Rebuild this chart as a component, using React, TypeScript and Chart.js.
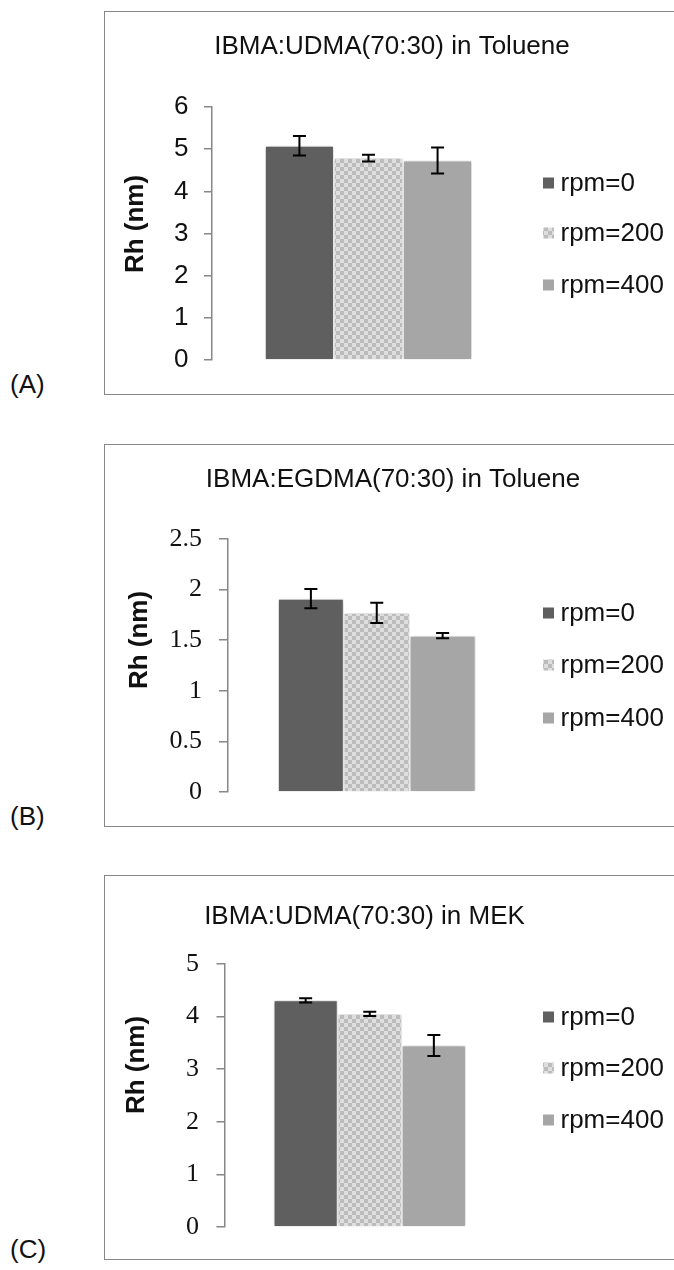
import React, { useEffect, useRef } from 'react';
import { Chart, registerables } from 'chart.js';

Chart.register(...registerables);

// ---------- data ----------
const SERIES_LABELS = ['rpm=0', 'rpm=200', 'rpm=400'];
const PANEL_TAGS = ['(A)', '(B)', '(C)'];
const PANEL_TITLES = [
  'IBMA:UDMA(70:30) in Toluene',
  'IBMA:EGDMA(70:30) in Toluene',
  'IBMA:UDMA(70:30) in MEK',
];
const Y_AXIS_TITLE = 'Rh (nm)';

const A_MEANS = [5.08, 4.79, 4.73];
const A_ERRORS = [0.23, 0.08, 0.31];
const B_MEANS = [1.91, 1.77, 1.545];
const B_ERRORS = [0.095, 0.1, 0.025];
const C_MEANS = [4.31, 4.05, 3.45];
const C_ERRORS = [0.04, 0.04, 0.2];

const A_TICKS = ['0', '1', '2', '3', '4', '5', '6'];
const B_TICKS = ['0', '0.5', '1', '1.5', '2', '2.5'];
const C_TICKS = ['0', '1', '2', '3', '4', '5'];

const PANEL_MEANS = [A_MEANS, B_MEANS, C_MEANS];
const PANEL_ERRORS = [A_ERRORS, B_ERRORS, C_ERRORS];
const PANEL_TICKS = [A_TICKS, B_TICKS, C_TICKS];
const Y_MAX = [6, 2.5, 5];
const Y_STEP = [1, 0.5, 1];

// ---------- styles ----------
const SANS = '"Liberation Sans", Arial, Helvetica, sans-serif';
const SERIF = '"Liberation Serif", "Times New Roman", serif';
const AXIS_GREY = '#878787';
const TEXT = '#111111';
const DARK = '#5f5f5f';
const LIGHT = '#a6a6a6';

const CANVAS_W = 570;
const BOX_LEFT = 104;

const LAYOUTS = [
  {
    top: 11, height: 384,
    area: { left: 108, right: 421, top: 96, bottom: 349 },
    tickLen: 8, tickPad: 15.5, tickFont: SANS,
    title: { x: 288, y: 36 },
    legendY: [172, 222, 274],
    yTitle: { x: 32, y: 213 },
  },
  {
    top: 444, height: 383,
    area: { left: 123.5, right: 422, top: 95, bottom: 348 },
    tickLen: 8.5, tickPad: 17, tickFont: SERIF,
    title: { x: 289, y: 36 },
    legendY: [169, 221, 274],
    yTitle: { x: 36, y: 196 },
  },
  {
    top: 875, height: 385,
    area: { left: 120.5, right: 411, top: 89, bottom: 352.5 },
    tickLen: 8, tickPad: 17.5, tickFont: SERIF,
    title: { x: 260.5, y: 42 },
    legendY: [142, 193, 245],
    yTitle: { x: 33, y: 190 },
  },
];

function makeChecker(): CanvasPattern | string {
  const c = document.createElement('canvas');
  c.width = 8;
  c.height = 8;
  const g = c.getContext('2d');
  if (!g) return '#cccccc';
  g.fillStyle = '#dedede';
  g.fillRect(0, 0, 8, 8);
  g.fillStyle = '#bcbcbc';
  g.fillRect(0, 0, 4, 4);
  g.fillRect(4, 4, 4, 4);
  const p = g.createPattern(c, 'repeat');
  return p || '#cccccc';
}

const decorPlugin = {
  id: 'decor',
  beforeDatasetsDraw(chart: any) {
    const ctx = chart.ctx;
    ctx.save();
    ctx.shadowColor = 'rgba(0,0,0,0.28)';
    ctx.shadowBlur = 4;
  },
  afterDatasetsDraw(chart: any) {
    const ctx = chart.ctx;
    ctx.restore();
    const yScale = chart.scales.y;
    ctx.save();
    ctx.strokeStyle = '#000000';
    ctx.lineWidth = 2;
    const cap = 6.5;
    chart.data.datasets.forEach((ds: any, i: number) => {
      const meta = chart.getDatasetMeta(i);
      meta.data.forEach((bar: any, j: number) => {
        const v = ds.data[j];
        const e = ds.errors[j];
        const x = bar.x;
        const y1 = yScale.getPixelForValue(v + e);
        const y2 = yScale.getPixelForValue(v - e);
        ctx.beginPath();
        ctx.moveTo(x, y1);
        ctx.lineTo(x, y2);
        ctx.moveTo(x - cap, y1);
        ctx.lineTo(x + cap, y1);
        ctx.moveTo(x - cap, y2);
        ctx.lineTo(x + cap, y2);
        ctx.stroke();
      });
    });
    ctx.restore();
  },
  afterDraw(chart: any, _args: any, opts: any) {
    const ctx = chart.ctx;
    ctx.save();
    // title
    ctx.fillStyle = TEXT;
    ctx.font = `26px ${SANS}`;
    ctx.textAlign = 'center';
    ctx.textBaseline = 'middle';
    ctx.fillText(opts.title, opts.titlePos.x, opts.titlePos.y);
    // legend
    ctx.textAlign = 'left';
    chart.data.datasets.forEach((ds: any, i: number) => {
      const y = opts.legendY[i];
      ctx.fillStyle = ds.backgroundColor;
      ctx.fillRect(439, y - 5.5, 11, 11);
      ctx.fillStyle = TEXT;
      ctx.fillText(ds.label, 456.5, y + 1);
    });
    // y axis title
    ctx.translate(opts.yTitlePos.x, opts.yTitlePos.y);
    ctx.rotate(-Math.PI / 2);
    ctx.font = `bold 26px ${SANS}`;
    ctx.textAlign = 'center';
    ctx.textBaseline = 'middle';
    ctx.fillStyle = TEXT;
    ctx.fillText(opts.yTitle, 0, 0);
    ctx.restore();
  },
};

function Panel({ index }: { index: number }) {
  const ref = useRef<HTMLCanvasElement | null>(null);
  const L = LAYOUTS[index];

  useEffect(() => {
    if (!ref.current) return;
    const checker = makeChecker();
    const colors = [DARK, checker, LIGHT];
    const means = PANEL_MEANS[index];
    const errors = PANEL_ERRORS[index];
    const tickLabels = PANEL_TICKS[index];
    const step = Y_STEP[index];
    const chart = new Chart(ref.current, {
      type: 'bar',
      data: {
        labels: [''],
        datasets: SERIES_LABELS.map((label, i) => ({
          label,
          data: [means[i]],
          errors: [errors[i]],
          backgroundColor: colors[i],
          borderColor: '#ffffff',
          borderWidth: 1,
          categoryPercentage: 0.662,
          barPercentage: 1,
        })) as any,
      },
      options: {
        responsive: false,
        animation: false,
        devicePixelRatio: 1,
        layout: {
          padding: {
            left: 0,
            top: L.area.top,
            bottom: L.height - L.area.bottom,
            right: CANVAS_W - L.area.right,
          },
        },
        plugins: {
          legend: { display: false },
          title: { display: false },
          tooltip: { enabled: false },
          decor: {
            title: PANEL_TITLES[index],
            titlePos: L.title,
            legendY: L.legendY,
            yTitle: Y_AXIS_TITLE,
            yTitlePos: L.yTitle,
          },
        } as any,
        scales: {
          x: { display: false },
          y: {
            min: 0,
            max: Y_MAX[index],
            ticks: {
              stepSize: step,
              color: TEXT,
              padding: L.tickPad,
              font: { family: L.tickFont, size: 26 },
              callback: (value: any) => {
                const k = Math.round(Number(value) / step);
                return tickLabels[k] ?? String(value);
              },
            },
            grid: {
              drawOnChartArea: false,
              drawTicks: true,
              tickLength: L.tickLen,
              color: AXIS_GREY,
              lineWidth: 1.5,
            },
            border: { display: true, color: AXIS_GREY, width: 1.5 },
            afterFit: (scale: any) => {
              scale.width = L.area.left;
            },
          },
        },
      },
      plugins: [decorPlugin],
    });
    return () => chart.destroy();
  }, [index]);

  return (
    <>
      <div
        style={{
          position: 'absolute',
          left: BOX_LEFT,
          top: L.top,
          width: 600,
          height: L.height,
          border: `1.5px solid ${AXIS_GREY}`,
          boxSizing: 'border-box',
        }}
      />
      <canvas
        ref={ref}
        width={CANVAS_W}
        height={L.height}
        style={{ position: 'absolute', left: BOX_LEFT, top: L.top }}
      />
      <div
        style={{
          position: 'absolute',
          left: 10,
          top: L.top + L.height - 11 - 15,
          height: 30,
          lineHeight: '30px',
          font: `26px ${SANS}`,
          color: TEXT,
        }}
      >
        {PANEL_TAGS[index]}
      </div>
    </>
  );
}

export default function App() {
  return (
    <div
      style={{
        position: 'absolute',
        left: 0,
        top: 0,
        width: 674,
        height: 1270,
        overflow: 'hidden',
        background: '#ffffff',
      }}
    >
      <Panel index={0} />
      <Panel index={1} />
      <Panel index={2} />
    </div>
  );
}
